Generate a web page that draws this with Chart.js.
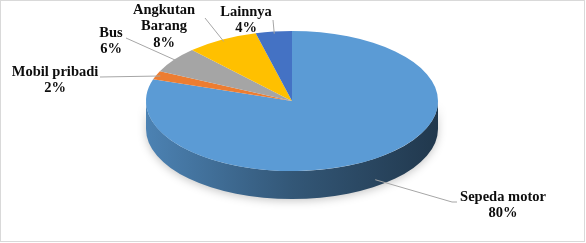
<!DOCTYPE html>
<html>
<head>
<meta charset="utf-8">
<script src="https://cdn.jsdelivr.net/npm/chart.js@4/dist/chart.umd.min.js"></script>
<style>
  html, body { margin: 0; padding: 0; background: #fff; }
  #wrap { position: relative; width: 586px; height: 243px; }
</style>
</head>
<body>
<div id="wrap"><canvas id="pie"></canvas></div>
<script>
// Modal share of trips.
const categories  = ['Sepeda motor', 'Mobil pribadi', 'Bus', ['Angkutan', 'Barang'], 'Lainnya'];
const shares      = [80, 2, 6, 8, 4];
const sliceColors = ['#5b9bd5', '#ed7d31', '#a5a5a5', '#ffc000', '#4472c4'];

// Where the tilted pie sits on the page (top face ellipse + rim depth).
const GEO = { cx: 292, cy: 101, rx: 146, ry: 70, depth: 28 };

// First-line centre of each slice label and the point its leader line ends at.
const LABEL_SPOTS = [
  { x: 503, y: 197, lx: 452, ly: 202, ex: 457 },
  { x: 55,  y: 72,  lx: 100, ly: 77 },
  { x: 111, y: 33,  lx: 126, ly: 38 },
  { x: 164, y: 10,  lx: 205, ly: 18 },
  { x: 246, y: 12,  lx: 273, ly: 20 }
];
const LINE_H = 16.5;

const shade = (hex, f) => {
  const n = parseInt(hex.slice(1), 16);
  const ch = s => Math.round(((n >> s) & 255) * f);
  return `rgb(${ch(16)},${ch(8)},${ch(0)})`;
};

// Rim of the pie: only the front half (0..PI) is visible.
const drawSides = (ctx, arcs) => {
  const { cx, cy, rx, ry, depth } = GEO;
  ctx.save();
  ctx.shadowColor = 'rgba(0,0,0,0.22)';
  ctx.shadowBlur = 8;
  ctx.shadowOffsetY = 2;
  arcs.forEach((arc, i) => {
    [-2 * Math.PI, 0, 2 * Math.PI].forEach(shift => {
      const a = Math.max(arc.startAngle, shift);
      const b = Math.min(arc.endAngle, shift + Math.PI);
      if (b <= a) return;
      ctx.beginPath();
      ctx.ellipse(cx, cy, rx, ry, 0, a - shift, b - shift);
      ctx.ellipse(cx, cy + depth, rx, ry, 0, b - shift, a - shift, true);
      ctx.closePath();
      const g = ctx.createLinearGradient(cx - rx, 0, cx + rx, 0);
      g.addColorStop(0,    shade(sliceColors[i], 0.84));
      g.addColorStop(0.5,  shade(sliceColors[i], 0.56));
      g.addColorStop(1,    shade(sliceColors[i], 0.36));
      ctx.fillStyle = g;
      ctx.fill();
    });
  });
  ctx.restore();
};

const tiltPlugin = {
  id: 'tilt',
  beforeDatasetsDraw(chart) {
    const ctx  = chart.ctx;
    const arcs = chart.getDatasetMeta(0).data;
    drawSides(ctx, arcs);
    const a0 = arcs[0];
    ctx.save();
    ctx.translate(GEO.cx, GEO.cy);
    ctx.scale(GEO.rx / a0.outerRadius, GEO.ry / a0.outerRadius);
    ctx.translate(-a0.x, -a0.y);
  },
  afterDatasetsDraw(chart) { chart.ctx.restore(); }
};

const labelPlugin = {
  id: 'sliceLabels',
  afterDraw(chart) {
    const ctx  = chart.ctx;
    const arcs = chart.getDatasetMeta(0).data;
    ctx.save();
    arcs.forEach((arc, i) => {
      const mid = (arc.startAngle + arc.endAngle) / 2;
      const c = Math.cos(mid), s = Math.sin(mid);
      const px = GEO.cx + GEO.rx * c * 0.97;
      const py = GEO.cy + GEO.ry * s * 0.97 + (s > 0 ? GEO.depth * 0.85 : 0);
      const spot = LABEL_SPOTS[i];

      ctx.strokeStyle = '#a6a6a6';
      ctx.lineWidth = 1;
      ctx.beginPath();
      ctx.moveTo(px, py);
      ctx.lineTo(spot.lx, spot.ly);
      if (spot.ex) ctx.lineTo(spot.ex, spot.ly);
      ctx.stroke();

      const name  = chart.data.labels[i];
      const lines = [...(Array.isArray(name) ? name : [name]), shares[i] + '%'];
      ctx.font = 'bold 14.5px "Liberation Serif"';
      ctx.fillStyle = '#0d0d0d';
      ctx.textAlign = 'center';
      ctx.textBaseline = 'middle';
      lines.forEach((t, k) => ctx.fillText(t, spot.x, spot.y + k * LINE_H));
    });
    // thin frame round the chart
    ctx.strokeStyle = '#d9d9d9';
    ctx.strokeRect(0.5, 0.5, 584, 241);
    ctx.restore();
  }
};

new Chart(document.getElementById('pie'), {
  type: 'pie',
  data: {
    labels: categories,
    datasets: [{ data: shares, backgroundColor: sliceColors, borderWidth: 0 }]
  },
  options: {
    responsive: true,
    maintainAspectRatio: false,
    animation: false,
    events: [],
    plugins: { legend: { display: false }, tooltip: { enabled: false } }
  },
  plugins: [tiltPlugin, labelPlugin]
});
</script>
</body>
</html>
